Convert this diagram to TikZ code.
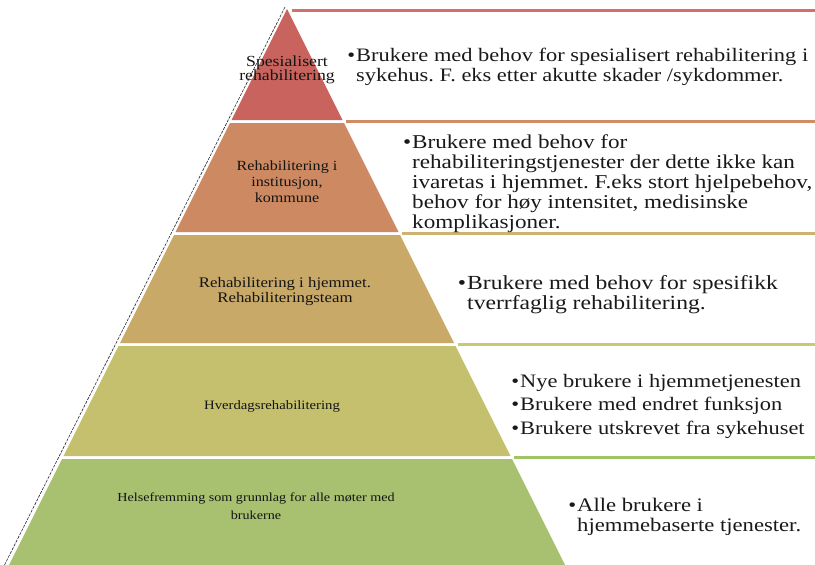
\documentclass[tikz,border=0pt]{standalone}
\usepackage{fontspec}
\setmainfont{Liberation Serif}[FakeStretch=1.18]
\newfontfamily\lblfont{Liberation Serif}[FakeStretch=1.15]
\definecolor{cA}{RGB}{200,99,93}
\definecolor{cB}{RGB}{205,137,98}
\definecolor{cC}{RGB}{201,169,103}
\definecolor{cD}{RGB}{196,192,110}
\definecolor{cE}{RGB}{168,193,112}
\definecolor{lA}{RGB}{212,112,107}
\definecolor{lB}{RGB}{208,140,100}
\definecolor{lC}{RGB}{206,178,114}
\definecolor{lD}{RGB}{198,202,112}
\definecolor{lE}{RGB}{160,195,100}
\newcommand\bul{\llap{•\hspace{1pt}}}
\frenchspacing
\begin{document}
\begin{tikzpicture}[x=1pt,y=-1pt,
  sepline/.style={line width=3.5pt},
  lbl/.style={align=center,inner sep=0pt,text=black!92},
  desc/.style={align=left,anchor=west,inner sep=0pt,text=black!90}]
\useasboundingbox (0,0) rectangle (815,565);
% pyramid bands
\fill[cA] (287,9) -- (342.5,120) -- (231.5,120) -- cycle;
\fill[cB] (230,123) -- (344,123) -- (398.5,232) -- (175.5,232) -- cycle;
\fill[cC] (174,235) -- (400,235) -- (454,343) -- (120,343) -- cycle;
\fill[cD] (118.5,346) -- (455.5,346) -- (510.5,456) -- (63.5,456) -- cycle;
\fill[cE] (62,459) -- (512,459) -- (565,565) -- (9,565) -- cycle;
% left dashed edge
\coordinate (apex) at (285,7);
\coordinate (base) at (4,566);
\draw[black!85,line width=0.6pt,dash pattern=on 3pt off 1.2pt] (apex) -- (base);
% right lines
\coordinate (a1) at (292,10.5);  \coordinate (b1) at (815,10.5);
\coordinate (a2) at (346,121.5); \coordinate (b2) at (815,121.5);
\coordinate (a3) at (402,233.5); \coordinate (b3) at (815,233.5);
\coordinate (a4) at (458,344.5); \coordinate (b4) at (815,344.5);
\coordinate (a5) at (514,457.5); \coordinate (b5) at (815,457.5);
\draw[sepline,lA] (a1) -- (b1);
\draw[sepline,lB] (a2) -- (b2);
\draw[sepline,lC] (a3) -- (b3);
\draw[sepline,lD] (a4) -- (b4);
\draw[sepline,lE] (a5) -- (b5);
% labels
\node[lbl,font=\lblfont\fontsize{15.4}{14}\selectfont] (t1) at (287,69.5) {Spesialisert\\rehabilitering};
\node[lbl,font=\lblfont\fontsize{14}{16}\selectfont] (t2) at (287,182) {Rehabilitering i\\institusjon,\\kommune};
\node[lbl,font=\lblfont\fontsize{14.6}{15}\selectfont] (t3) at (285,292) {Rehabilitering i hjemmet.\\Rehabiliteringsteam};
\node[lbl,font=\lblfont\fontsize{12.8}{16}\selectfont] (t4) at (272,406) {Hverdagsrehabilitering};
\node[lbl,font=\lblfont\fontsize{12.3}{18}\selectfont] (t5) at (256,506) {Helsefremming som grunnlag for alle møter med\\brukerne};
% descriptions
\node[desc,font=\fontsize{19}{20}\selectfont] (d1) at (356,67) {\bul Brukere med behov for spesialisert rehabilitering i\\sykehus. F. eks etter akutte skader /sykdommer.};
\node[desc,font=\fontsize{19.6}{20}\selectfont] (d2) at (412,183.5) {\bul Brukere med behov for\\rehabiliteringstjenester der dette ikke kan\\ivaretas i hjemmet. F.eks stort hjelpebehov,\\behov for høy intensitet, medisinske\\komplikasjoner.};
\node[desc,font=\fontsize{20}{20}\selectfont] (d3) at (467,294.5) {\bul Brukere med behov for spesifikk\\tverrfaglig rehabilitering.};
\node[desc,font=\fontsize{19}{20}\selectfont] (d4) at (520,406) {\bul Nye brukere i hjemmetjenesten\\[3.5pt]\bul Brukere med endret funksjon\\[3.5pt]\bul Brukere utskrevet fra sykehuset};
\node[desc,font=\fontsize{19.2}{20}\selectfont] (d5) at (577,517) {\bul Alle brukere i\\hjemmebaserte tjenester.};
\end{tikzpicture}
\end{document}
